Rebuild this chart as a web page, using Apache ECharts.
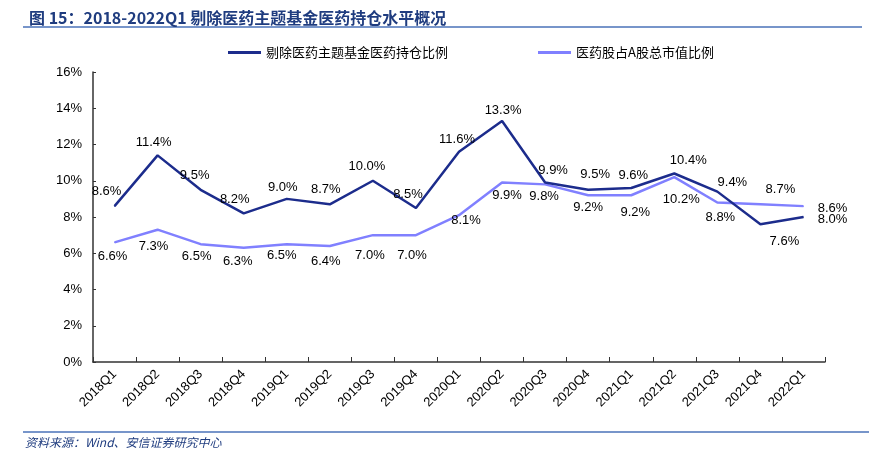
<!DOCTYPE html>
<html>
<head>
<meta charset="utf-8">
<script src="https://cdn.jsdelivr.net/npm/echarts@6/dist/echarts.min.js"></script>
<style>
html,body{margin:0;padding:0;background:#fff;}
#chart{width:886px;height:456px;}
</style>
</head>
<body>
<div id="chart"></div>
<script>
var categories = ['2018Q1','2018Q2','2018Q3','2018Q4','2019Q1','2019Q2','2019Q3','2019Q4','2020Q1','2020Q2','2020Q3','2020Q4','2021Q1','2021Q2','2021Q3','2021Q4','2022Q1'];
var fundShare = [8.6, 11.4, 9.5, 8.2, 9.0, 8.7, 10.0, 8.5, 11.6, 13.3, 9.9, 9.5, 9.6, 10.4, 9.4, 7.6, 8.0];
var marketShare = [6.6, 7.3, 6.5, 6.3, 6.5, 6.4, 7.0, 7.0, 8.1, 9.9, 9.8, 9.2, 9.2, 10.2, 8.8, 8.7, 8.6];
var seriesNames = ['剔除医药主题基金医药持仓比例', '医药股占A股总市值比例'];
var yTicks = [0, 2, 4, 6, 8, 10, 12, 14, 16];

// label placement (style only): offsets of label centre from the point, in px
var fundLabelOffsets = [[-8,-15],[-4,-13],[-6,-14],[-9,-14],[-4,-11],[-4,-15],[-6,-14],[-8,-14],[-2,-12],[1,-11],[8,-12],[7,-15],[2,-13],[14,-13],[15,-9],[24,17],[29,2]];
var marketLabelOffsets = [[-2,14],[-4,17],[-4,12],[-6,14],[-5,11],[-4,15],[-3,20],[-4,20],[7,5],[5,13],[-1,12],[0,12],[4,17],[7,22],[3,15],[20,-15],[29,2]];

function buildData(values, offsets) {
  return values.map(function (v, i) {
    return { value: v, label: { offset: offsets[i] } };
  });
}

var chart = echarts.init(document.getElementById('chart'));
var numFont = 'Liberation Sans, Arial, sans-serif';
var cjkFont = 'Noto Sans CJK SC, sans-serif';

var option = {
  animation: false,
  backgroundColor: '#fff',
  title: {
    text: '图 15：2018-2022Q1 剔除医药主题基金医药持仓水平概况',
    left: 24, top: 5,
    textStyle: { fontSize: 16, fontWeight: 'bold', color: '#1F3C7F', fontFamily: cjkFont }
  },
  graphic: [
    { type: 'line', shape: { x1: 23, y1: 27, x2: 862, y2: 27 }, style: { stroke: '#4A72B8', lineWidth: 1.5 } },
    { type: 'line', shape: { x1: 23, y1: 432, x2: 869, y2: 432 }, style: { stroke: '#4A72B8', lineWidth: 1.5 } },
    { type: 'text', left: 25, top: 436, style: { text: '资料来源：Wind、安信证券研究中心', fill: '#1F3C7F', font: 'italic 12px ' + cjkFont } }
  ],
  legend: {
    left: 228, top: 46, padding: 0,
    itemWidth: 33, itemHeight: 3, itemGap: 90,
    icon: 'rect',
    textStyle: { fontSize: 13, color: '#000', fontFamily: cjkFont },
    data: seriesNames
  },
  grid: { left: 93, right: 61, top: 72, bottom: 94, containLabel: false },
  xAxis: {
    type: 'category',
    data: categories,
    boundaryGap: true,
    axisLine: { lineStyle: { color: '#333', width: 1.5 } },
    axisTick: { show: true, inside: true, length: 5, lineStyle: { color: '#333' }, alignWithLabel: false },
    axisLabel: { rotate: 45, interval: 0, fontSize: 13, color: '#000', fontFamily: numFont, margin: 10 },
    splitLine: { show: false }
  },
  yAxis: {
    type: 'value',
    min: yTicks[0], max: yTicks[yTicks.length - 1], interval: 2,
    axisLine: { show: true, lineStyle: { color: '#333', width: 1.5 } },
    axisTick: { show: true, inside: true, length: 3, lineStyle: { color: '#333' } },
    axisLabel: { formatter: '{value}%', fontSize: 13, color: '#000', fontFamily: numFont, margin: 11 },
    splitLine: { show: false }
  },
  series: [
    {
      name: seriesNames[0], type: 'line',
      data: buildData(fundShare, fundLabelOffsets),
      symbol: 'circle', symbolSize: 1, showSymbol: true,
      lineStyle: { color: '#1C2C8C', width: 2.5 },
      itemStyle: { color: '#1C2C8C' },
      label: { show: true, position: 'inside', color: '#000', fontSize: 13, fontFamily: numFont,
        formatter: function (p) { return p.value.toFixed(1) + '%'; } },
      z: 3
    },
    {
      name: seriesNames[1], type: 'line',
      data: buildData(marketShare, marketLabelOffsets),
      symbol: 'circle', symbolSize: 1, showSymbol: true,
      lineStyle: { color: '#8080FF', width: 2.5 },
      itemStyle: { color: '#8080FF' },
      label: { show: true, position: 'inside', color: '#000', fontSize: 13, fontFamily: numFont,
        formatter: function (p) { return p.value.toFixed(1) + '%'; } },
      z: 2
    }
  ]
};
chart.setOption(option);
</script>
</body>
</html>
